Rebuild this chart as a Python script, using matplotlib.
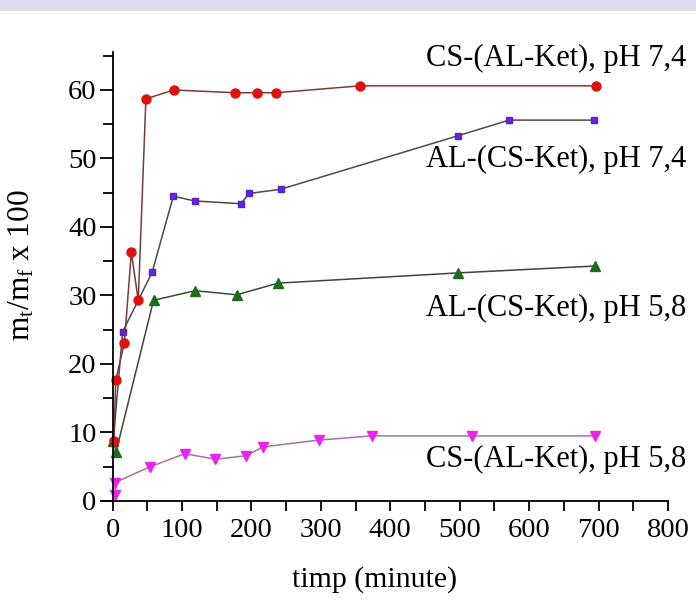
import matplotlib
matplotlib.use("Agg")
import matplotlib.pyplot as plt
from matplotlib.patches import Rectangle
from matplotlib.ticker import MultipleLocator

plt.rcParams["font.family"] = ["Liberation Serif", "DejaVu Serif"]
plt.rcParams["mathtext.fontset"] = "custom"
plt.rcParams["mathtext.rm"] = "Liberation Serif"
plt.rcParams["mathtext.it"] = "Liberation Serif"

# CS-(AL-Ket), pH 7,4
red_t = [2, 4.5, 17, 27, 37, 48, 88, 176, 208, 236, 356, 697]
red_y = [8.8, 17.6, 23.1, 36.3, 29.3, 58.7, 60.0, 59.6, 59.6, 59.6, 60.6, 60.6]

# AL-(CS-Ket), pH 7,4
blue_t = [1, 14.5, 57, 87.5, 118, 184.5, 197, 242, 497, 571, 694]
blue_y = [8.8, 24.7, 33.4, 44.5, 43.8, 43.4, 44.9, 45.5, 53.3, 55.6, 55.6]

# AL-(CS-Ket), pH 5,8
green_t = [1, 5, 59, 119, 179, 238, 498, 695]
green_y = [8.8, 7.2, 29.3, 30.7, 30.1, 31.8, 33.3, 34.3]

# CS-(AL-Ket), pH 5,8
pink_t = [4, 3.5, 54, 104, 148, 192, 217, 298, 373, 517, 695]
pink_y = [0.9, 2.7, 5.0, 6.9, 6.1, 6.6, 7.9, 8.9, 9.5, 9.5, 9.5]

fig = plt.figure(figsize=(6.96, 6.01), dpi=100)

# light band at the top of the slide
fig.patches.append(
    Rectangle(
        (0, 1 - 11 / 601), 1, 11 / 601,
        transform=fig.transFigure,
        facecolor="#dcdcee",
        edgecolor="none",
    )
)

ax = fig.add_axes([103 / 696, 100 / 601, 565 / 696, 448.7 / 601])

ax.plot(green_t, green_y, color="#3c463c", linewidth=1.1,
        marker="^", markersize=7.5, markerfacecolor="#1d6b1d",
        markeredgecolor="#1d6b1d")
ax.plot(pink_t, pink_y, color="#a870a8", linewidth=1.1,
        marker="v", markersize=7.5, markerfacecolor="#ee22ee",
        markeredgecolor="#ee22ee")
ax.plot(blue_t, blue_y, color="#4a4a4a", linewidth=1.1,
        marker="s", markersize=5, markerfacecolor="#6622dd",
        markeredgecolor="#5a1ec8")
ax.plot(red_t, red_y, color="#7a3a3a", linewidth=1.1,
        marker="o", markersize=6.5, markerfacecolor="#e01010",
        markeredgecolor="#e01010")

ax.set_xlim(-13.8, 800)
ax.set_ylim(0, 65.5)

ax.spines["left"].set_position(("data", 0))
ax.spines["top"].set_visible(False)
ax.spines["right"].set_visible(False)
for side in ["left", "bottom"]:
    ax.spines[side].set_linewidth(1.3)

ax.xaxis.set_major_locator(MultipleLocator(100))
ax.xaxis.set_minor_locator(MultipleLocator(50))
ax.yaxis.set_major_locator(MultipleLocator(10))
ax.yaxis.set_minor_locator(MultipleLocator(5))

ax.tick_params(axis="both", which="both", width=1.3, labelsize=20.5)
ax.tick_params(axis="y", which="major", length=9.5, pad=2)
ax.tick_params(axis="y", which="minor", length=7)
ax.tick_params(axis="x", which="both", length=7.5, pad=5)

ax.set_xlabel("timp (minute)", fontsize=21.5)
ax.xaxis.set_label_coords(0.481, -0.145)
ax.set_ylabel(r"$\mathregular{m_t/m_f}$ x 100", fontsize=22.5)
ax.yaxis.set_label_coords(-0.117, 0.526)

labels = [
    ("CS-(AL-Ket), pH 7,4", 63.5),
    ("AL-(CS-Ket), pH 7,4", 48.8),
    ("AL-(CS-Ket), pH 5,8", 27.0),
    ("CS-(AL-Ket), pH 5,8", 4.9),
]
for text, y in labels:
    ax.text(826, y, text, ha="right", va="baseline", fontsize=22)

plt.savefig("out.png", dpi=100)
plt.close(fig)
